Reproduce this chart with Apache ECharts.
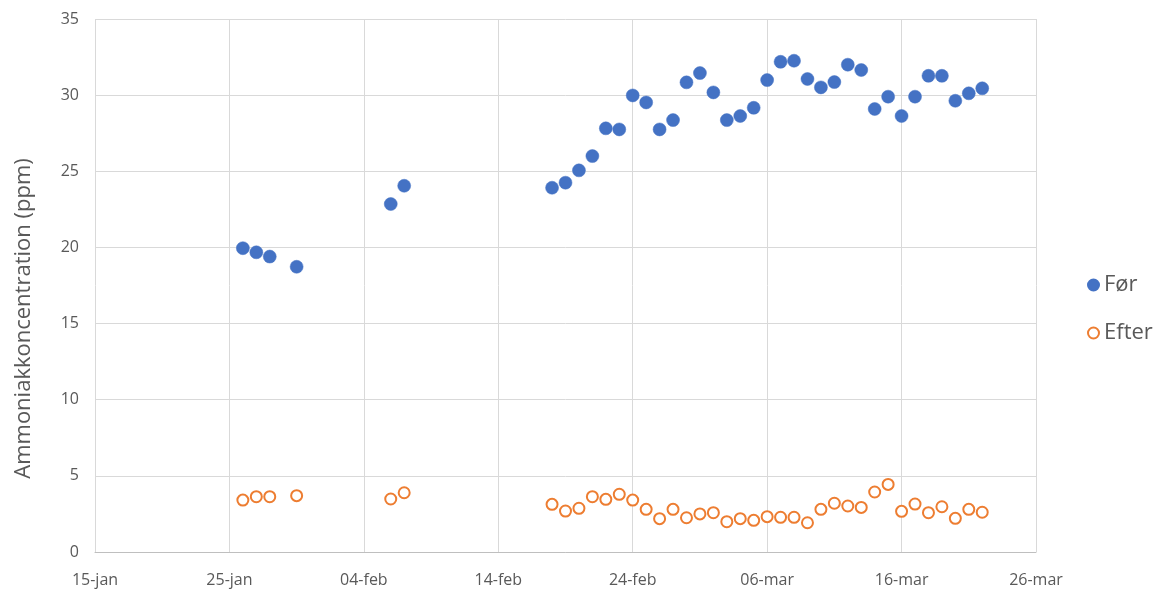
<!DOCTYPE html>
<html>
<head>
<meta charset="utf-8">
<script src="https://cdn.jsdelivr.net/npm/echarts@6/dist/echarts.min.js"></script>
<style>
html,body{margin:0;padding:0;background:#fff;}
#c{width:1172px;height:597px;}
</style>
</head>
<body>
<div id="c"></div>
<script>
const dates = [
  "2021-01-26","2021-01-27","2021-01-28","2021-01-30",
  "2021-02-06","2021-02-07",
  "2021-02-18","2021-02-19","2021-02-20","2021-02-21","2021-02-22","2021-02-23","2021-02-24",
  "2021-02-25","2021-02-26","2021-02-27","2021-02-28","2021-03-01","2021-03-02","2021-03-03",
  "2021-03-04","2021-03-05","2021-03-06","2021-03-07","2021-03-08","2021-03-09","2021-03-10",
  "2021-03-11","2021-03-12","2021-03-13","2021-03-14","2021-03-15","2021-03-16","2021-03-17",
  "2021-03-18","2021-03-19","2021-03-20","2021-03-21","2021-03-22"
];
const forValues = [
  19.95, 19.68, 19.4, 18.73,
  22.85, 24.05,
  23.92, 24.25, 25.06, 26.0, 27.82, 27.75, 29.98,
  29.52, 27.75, 28.36, 30.84, 31.45, 30.18, 28.36,
  28.63, 29.17, 30.99, 32.19, 32.26, 31.06, 30.51,
  30.86, 32.0, 31.65, 29.09, 29.9, 28.63, 29.9,
  31.27, 31.27, 29.63, 30.12, 30.45
];
const efterValues = [
  3.41, 3.63, 3.63, 3.7,
  3.48, 3.89,
  3.13, 2.69, 2.87, 3.63, 3.46, 3.79, 3.41,
  2.8, 2.19, 2.8, 2.25, 2.5, 2.58, 1.99,
  2.19, 2.08, 2.32, 2.28, 2.28, 1.92, 2.8,
  3.2, 3.02, 2.93, 3.94, 4.44, 2.67, 3.15,
  2.58, 2.97, 2.21, 2.8, 2.61
];
const seriesNames = ["Før", "Efter"];
const monthNames = ["jan","feb","mar","apr","maj","jun","jul","aug","sep","okt","nov","dec"];
const xStart = "2021-01-15";
const xEnd = "2021-03-26";

const DAY = 86400000;
const t0 = Date.parse(xStart + "T00:00:00Z");
const toDay = s => Math.round((Date.parse(s + "T00:00:00Z") - t0) / DAY);
const fmt = d => {
  const dt = new Date(t0 + d * DAY);
  const dd = String(dt.getUTCDate()).padStart(2, "0");
  return dd + "-" + monthNames[dt.getUTCMonth()];
};

const forData = dates.map((d, i) => [toDay(d), forValues[i]]);
const efterData = dates.map((d, i) => [toDay(d), efterValues[i]]);

const font = "'Open Sans', 'Liberation Sans', sans-serif";
const chart = echarts.init(document.getElementById("c"), null, {renderer: "canvas"});
chart.setOption({
  animation: false,
  textStyle: {fontFamily: font},
  grid: {left: 95, right: 136, top: 19, bottom: 45, containLabel: false},
  legend: {
    orient: "vertical",
    left: 1082,
    top: 268,
    itemGap: 24,
    itemWidth: 11,
    itemHeight: 11,
    textStyle: {fontSize: 22, color: "#595959", fontFamily: font, lineHeight: 24},
    data: [
      {name: seriesNames[0], icon: "circle"},
      {name: seriesNames[1], icon: "circle"}
    ]
  },
  xAxis: {
    type: "value",
    min: 0,
    max: toDay(xEnd),
    interval: 10,
    axisLine: {show: true, lineStyle: {color: "#bfbfbf", width: 1}},
    axisTick: {show: false},
    axisLabel: {formatter: v => fmt(v), color: "#595959", fontSize: 16, margin: 20, fontFamily: font},
    splitLine: {show: true, lineStyle: {color: "#d9d9d9", width: 1}}
  },
  yAxis: {
    type: "value",
    min: 0,
    max: 35,
    interval: 5,
    name: "Ammoniakkoncentration (ppm)",
    nameLocation: "middle",
    nameGap: 60,
    nameTextStyle: {fontSize: 22, color: "#595959", fontFamily: font, padding: [0, 66, 0, 0]},
    axisLine: {show: false},
    axisTick: {show: false},
    axisLabel: {color: "#595959", fontSize: 16, margin: 16, fontFamily: font},
    splitLine: {show: true, lineStyle: {color: "#d9d9d9", width: 1}}
  },
  series: [
    {
      name: seriesNames[0],
      type: "scatter",
      data: forData,
      symbol: "circle",
      symbolSize: 13,
      itemStyle: {color: "#4472c4", borderColor: "#4472c4", borderWidth: 0.5, opacity: 1}
    },
    {
      name: seriesNames[1],
      type: "scatter",
      data: efterData,
      symbol: "circle",
      symbolSize: 11,
      itemStyle: {color: "#ffffff", borderColor: "#ed7d31", borderWidth: 2, opacity: 1}
    }
  ]
});
</script>
</body>
</html>
